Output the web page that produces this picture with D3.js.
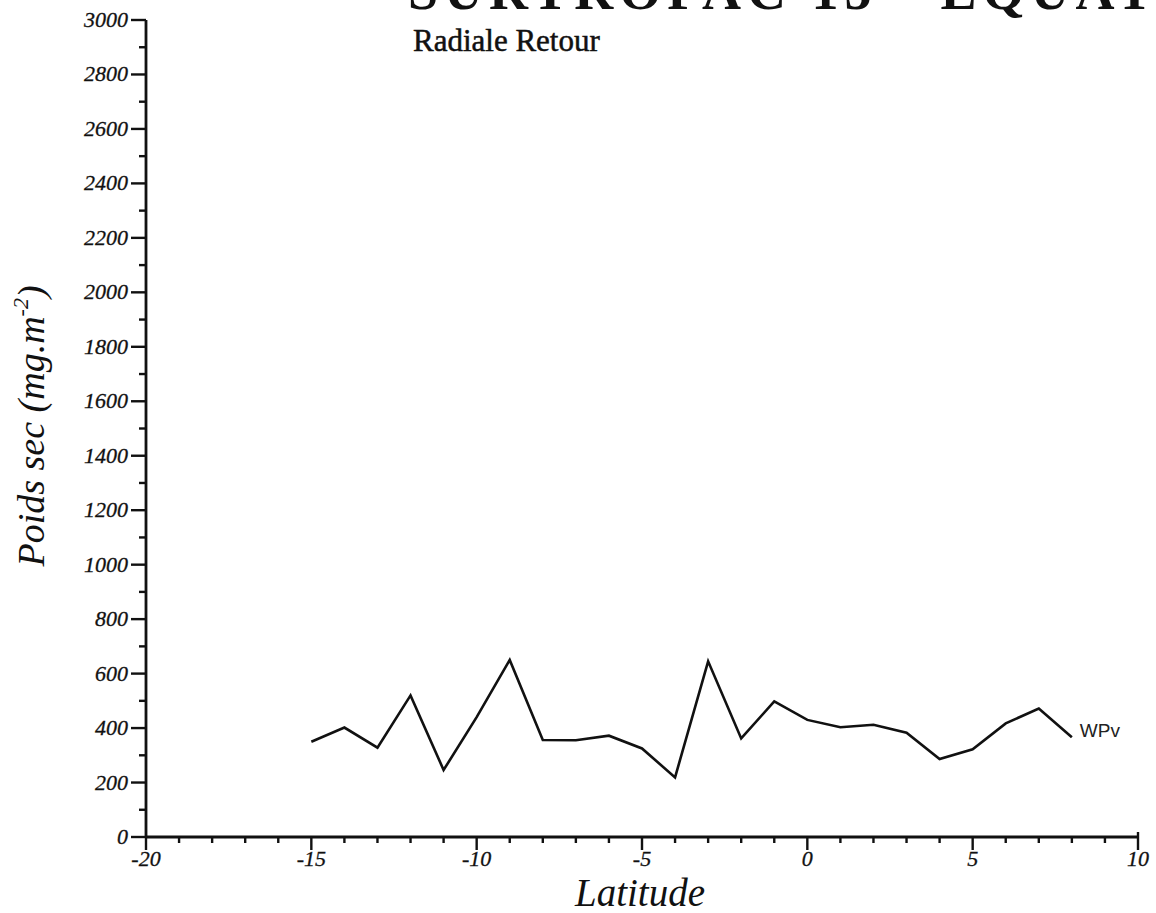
<!DOCTYPE html>
<html>
<head>
<meta charset="utf-8">
<script src="https://cdn.jsdelivr.net/npm/d3@7"></script>
<style>
  html, body { margin: 0; padding: 0; background: #fff; }
  svg { display: block; }
</style>
</head>
<body>
<svg id="chart" width="1156" height="913"></svg>
<script>
// ---- Data ----
const latitudes = [-15, -14, -13, -12, -11, -10, -9, -8, -7, -6, -5, -4, -3, -2, -1, 0, 1, 2, 3, 4, 5, 6, 7, 8];
const wpvValues = [350, 402, 328, 520, 246, 440, 650, 356, 355, 372, 325, 219, 645, 362, 498, 430, 403, 412, 383, 286, 322, 417, 472, 366];
const seriesName = "WPv";
const xTickValues = [-20, -15, -10, -5, 0, 5, 10];
const xTickLabels = ["-20", "-15", "-10", "-5", "0", "5", "10"];
const yTickValues = [0, 200, 400, 600, 800, 1000, 1200, 1400, 1600, 1800, 2000, 2200, 2400, 2600, 2800, 3000];
const yTickLabels = ["0", "200", "400", "600", "800", "1000", "1200", "1400", "1600", "1800", "2000", "2200", "2400", "2600", "2800", "3000"];
const titleText = "SURTROPAC 15 - EQUATEUR";
const subtitleText = "Radiale Retour";
const xAxisTitle = "Latitude";

// ---- Layout ----
const svg = d3.select("#chart");
const x = d3.scaleLinear().domain([-20, 10]).range([146, 1138]);
const y = d3.scaleLinear().domain([0, 3000]).range([837, 20]);
const serif = "'Liberation Serif', 'Times New Roman', serif";

// cut-off big title at the very top (only the bottom of the letters shows)
svg.append("text")
  .attr("x", 408).attr("y", 9)
  .attr("font-family", serif)
  .attr("font-weight", "bold")
  .attr("font-size", 54)
  .attr("letter-spacing", 6)
  .attr("fill", "#111")
  .text(titleText);

svg.append("text")
  .attr("x", 413).attr("y", 51)
  .attr("font-family", serif)
  .attr("font-size", 31)
  .attr("fill", "#111")
  .attr("stroke", "#111").attr("stroke-width", 0.5)
  .text(subtitleText);

// ---- Y axis ----
const yMinor = d3.range(0, 3001, 100);
const gy = svg.append("g").attr("transform", `translate(${x(-20)},0)`);
gy.append("line").attr("x1", 0).attr("x2", 0).attr("y1", y(3000)).attr("y2", y(0))
  .attr("stroke", "#111").attr("stroke-width", 2.8);
gy.selectAll("line.minor").data(yMinor).join("line").attr("class", "minor")
  .attr("x1", d => d % 200 === 0 ? -15 : -7).attr("x2", 0)
  .attr("y1", d => y(d)).attr("y2", d => y(d))
  .attr("stroke", "#111").attr("stroke-width", 2.4);
gy.selectAll("text").data(yTickValues).join("text")
  .attr("x", -18).attr("y", d => y(d) + 7)
  .attr("text-anchor", "end")
  .attr("font-family", serif).attr("font-style", "italic").attr("font-size", 22)
  .attr("fill", "#111").attr("stroke", "#111").attr("stroke-width", 0.3)
  .text((d, i) => yTickLabels[i]);

// ---- X axis ----
const xMinor = d3.range(-20, 11, 1);
const gx = svg.append("g").attr("transform", `translate(0,${y(0)})`);
gx.append("line").attr("x1", x(-20)).attr("x2", x(10)).attr("y1", 0).attr("y2", 0)
  .attr("stroke", "#111").attr("stroke-width", 2.8);
gx.selectAll("line.minor").data(xMinor).join("line").attr("class", "minor")
  .attr("x1", d => x(d)).attr("x2", d => x(d))
  .attr("y1", d => d === 10 ? -5 : 0).attr("y2", d => d % 5 === 0 ? 13 : 6)
  .attr("stroke", "#111").attr("stroke-width", 2.4);
gx.selectAll("text").data(xTickValues).join("text")
  .attr("x", d => x(d)).attr("y", 29)
  .attr("text-anchor", "middle")
  .attr("font-family", serif).attr("font-style", "italic").attr("font-size", 22)
  .attr("fill", "#111").attr("stroke", "#111").attr("stroke-width", 0.3)
  .text((d, i) => xTickLabels[i]);

// axis titles
svg.append("text")
  .attr("x", 640).attr("y", 906)
  .attr("text-anchor", "middle")
  .attr("font-family", serif).attr("font-style", "italic").attr("font-size", 39)
  .attr("fill", "#111")
  .text(xAxisTitle);

const yt = svg.append("text")
  .attr("transform", "translate(44,426) rotate(-90)")
  .attr("text-anchor", "middle")
  .attr("font-family", serif).attr("font-style", "italic").attr("font-size", 38)
  .attr("fill", "#111");
yt.append("tspan").text("Poids sec (mg.m");
yt.append("tspan").attr("dy", -16).attr("font-size", 22).text("-2");
yt.append("tspan").attr("dy", 16).text(")");

// ---- Series ----
const data = latitudes.map((l, i) => ({ lat: l, v: wpvValues[i] }));
svg.append("path").datum(data)
  .attr("fill", "none").attr("stroke", "#111").attr("stroke-width", 2.6)
  .attr("stroke-linejoin", "miter")
  .attr("d", d3.line().x(d => x(d.lat)).y(d => y(d.v)));

const last = data[data.length - 1];
svg.append("text")
  .attr("x", x(last.lat) + 8).attr("y", y(last.v))
  .attr("font-family", "'Liberation Sans', Arial, sans-serif").attr("font-size", 19)
  .attr("fill", "#222")
  .text(seriesName);
</script>
</body>
</html>
